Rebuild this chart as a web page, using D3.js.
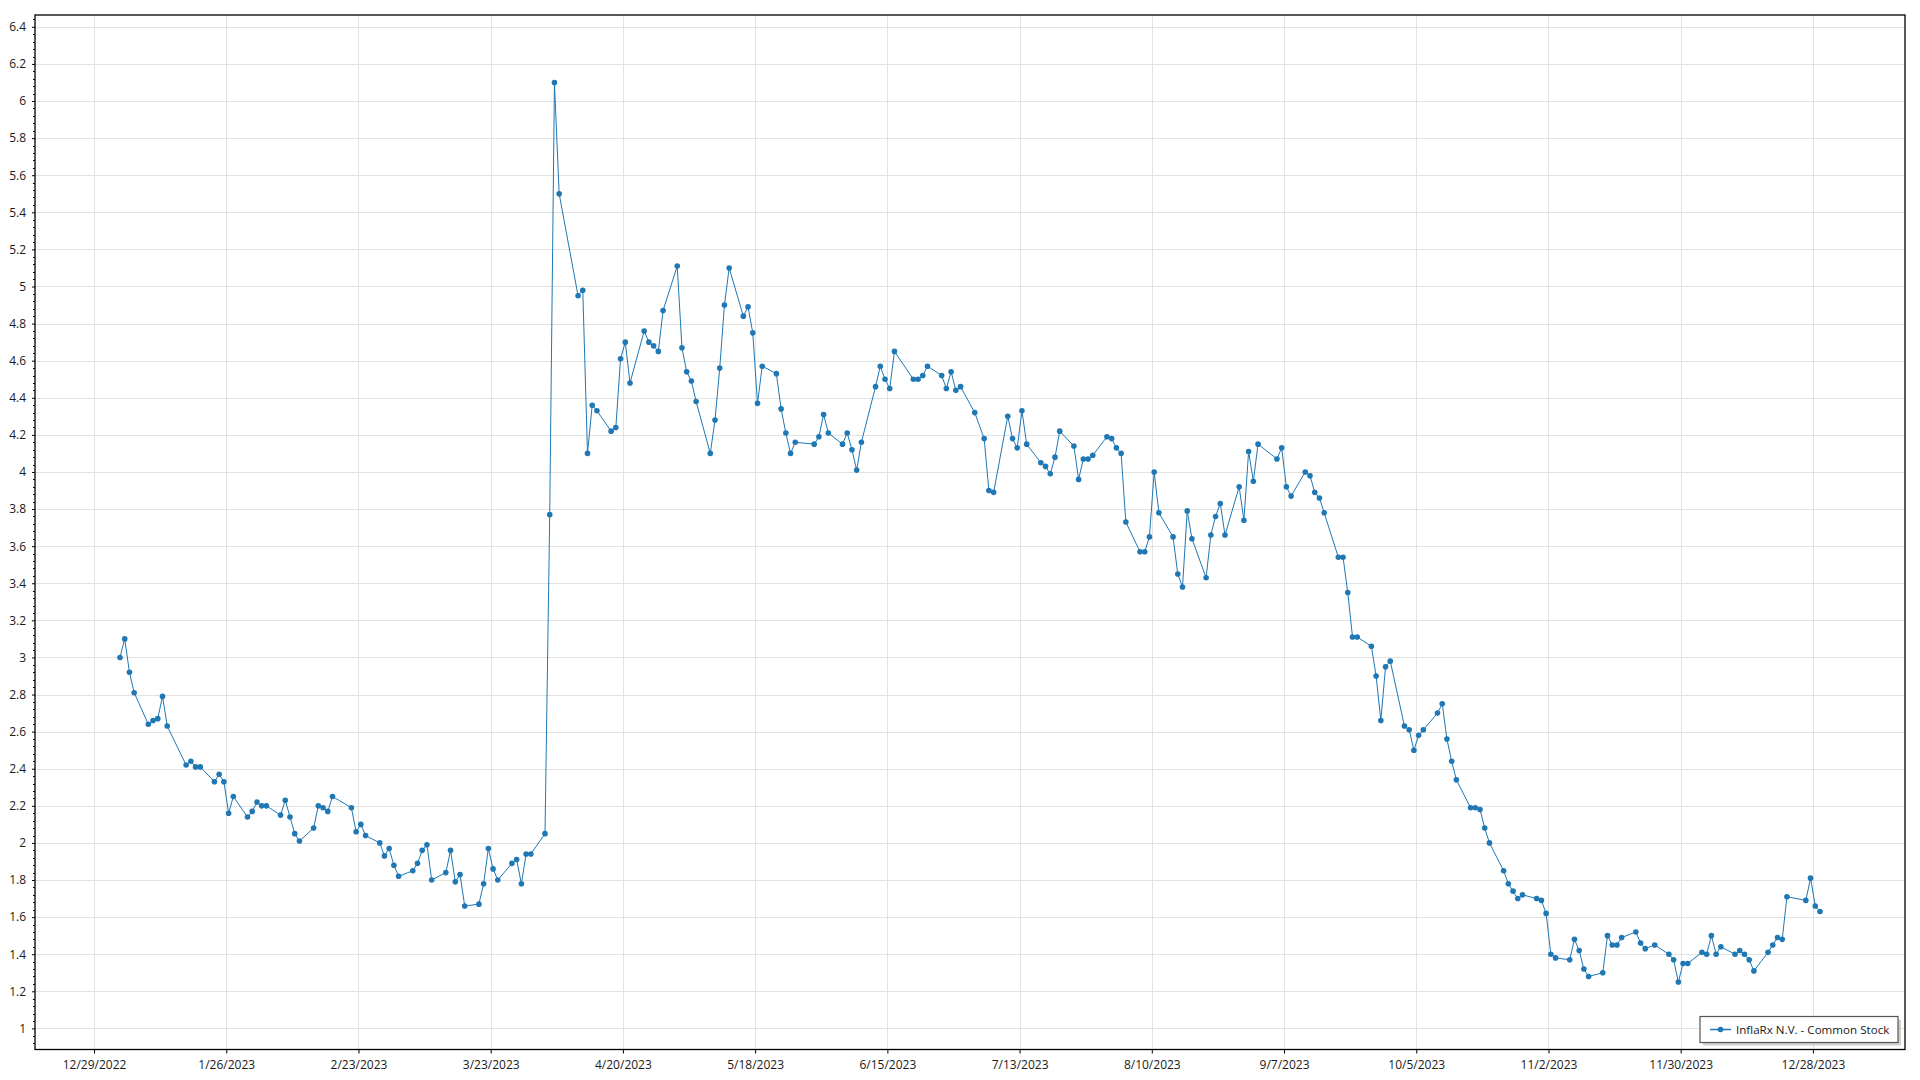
<!DOCTYPE html>
<html><head><meta charset="utf-8">
<script src="https://cdn.jsdelivr.net/npm/d3@7"></script>
<style>
body{margin:0;background:#fff}
svg{display:block}
text{font-family:"Open Sans","Noto Sans",sans-serif}
</style>
</head><body>
<svg id="chart" width="1920" height="1080"></svg>
<script>
const seriesName = "InflaRx N.V. - Common Stock";

const dates = [
"2023-01-03","2023-01-04","2023-01-05","2023-01-06","2023-01-09","2023-01-10","2023-01-11","2023-01-12","2023-01-13","2023-01-17","2023-01-18","2023-01-19","2023-01-20","2023-01-23","2023-01-24","2023-01-25","2023-01-26","2023-01-27","2023-01-30","2023-01-31",
"2023-02-01","2023-02-02","2023-02-03","2023-02-06","2023-02-07","2023-02-08","2023-02-09","2023-02-10","2023-02-13","2023-02-14","2023-02-15","2023-02-16","2023-02-17","2023-02-21","2023-02-22","2023-02-23","2023-02-24","2023-02-27","2023-02-28",
"2023-03-01","2023-03-02","2023-03-03","2023-03-06","2023-03-07","2023-03-08","2023-03-09","2023-03-10","2023-03-13","2023-03-14","2023-03-15","2023-03-16","2023-03-17","2023-03-20","2023-03-21","2023-03-22","2023-03-23","2023-03-24","2023-03-27","2023-03-28","2023-03-29","2023-03-30","2023-03-31",
"2023-04-03","2023-04-04","2023-04-05","2023-04-06","2023-04-10","2023-04-11","2023-04-12","2023-04-13","2023-04-14","2023-04-17","2023-04-18","2023-04-19","2023-04-20","2023-04-21","2023-04-24","2023-04-25","2023-04-26","2023-04-27","2023-04-28",
"2023-05-01","2023-05-02","2023-05-03","2023-05-04","2023-05-05","2023-05-08","2023-05-09","2023-05-10","2023-05-11","2023-05-12","2023-05-15","2023-05-16","2023-05-17","2023-05-18","2023-05-19","2023-05-22","2023-05-23","2023-05-24","2023-05-25","2023-05-26","2023-05-30","2023-05-31",
"2023-06-01","2023-06-02","2023-06-05","2023-06-06","2023-06-07","2023-06-08","2023-06-09","2023-06-12","2023-06-13","2023-06-14","2023-06-15","2023-06-16","2023-06-20","2023-06-21","2023-06-22","2023-06-23","2023-06-26","2023-06-27","2023-06-28","2023-06-29","2023-06-30",
"2023-07-03","2023-07-05","2023-07-06","2023-07-07","2023-07-10","2023-07-11","2023-07-12","2023-07-13","2023-07-14","2023-07-17","2023-07-18","2023-07-19","2023-07-20","2023-07-21","2023-07-24","2023-07-25","2023-07-26","2023-07-27","2023-07-28","2023-07-31",
"2023-08-01","2023-08-02","2023-08-03","2023-08-04","2023-08-07","2023-08-08","2023-08-09","2023-08-10","2023-08-11","2023-08-14","2023-08-15","2023-08-16","2023-08-17","2023-08-18","2023-08-21","2023-08-22","2023-08-23","2023-08-24","2023-08-25","2023-08-28","2023-08-29","2023-08-30","2023-08-31",
"2023-09-01","2023-09-05","2023-09-06","2023-09-07","2023-09-08","2023-09-11","2023-09-12","2023-09-13","2023-09-14","2023-09-15","2023-09-18","2023-09-19","2023-09-20","2023-09-21","2023-09-22","2023-09-25","2023-09-26","2023-09-27","2023-09-28","2023-09-29",
"2023-10-02","2023-10-03","2023-10-04","2023-10-05","2023-10-06","2023-10-09","2023-10-10","2023-10-11","2023-10-12","2023-10-13","2023-10-16","2023-10-17","2023-10-18","2023-10-19","2023-10-20","2023-10-23","2023-10-24","2023-10-25","2023-10-26","2023-10-27","2023-10-30","2023-10-31",
"2023-11-01","2023-11-02","2023-11-03","2023-11-06","2023-11-07","2023-11-08","2023-11-09","2023-11-10","2023-11-13","2023-11-14","2023-11-15","2023-11-16","2023-11-17","2023-11-20","2023-11-21","2023-11-22","2023-11-24","2023-11-27","2023-11-28","2023-11-29","2023-11-30",
"2023-12-01","2023-12-04","2023-12-05","2023-12-06","2023-12-07","2023-12-08","2023-12-11","2023-12-12","2023-12-13","2023-12-14","2023-12-15","2023-12-18","2023-12-19","2023-12-20","2023-12-21","2023-12-22","2023-12-26","2023-12-27","2023-12-28","2023-12-29"
];

const prices = [
3.00,3.10,2.92,2.81,2.64,2.66,2.67,2.79,2.63,2.42,2.44,2.41,2.41,2.33,2.37,2.33,2.16,2.25,2.14,2.17,
2.22,2.20,2.20,2.15,2.23,2.14,2.05,2.01,2.08,2.20,2.19,2.17,2.25,2.19,2.06,2.10,2.04,2.00,1.93,
1.97,1.88,1.82,1.85,1.89,1.96,1.99,1.80,1.84,1.96,1.79,1.83,1.66,1.67,1.78,1.97,1.86,1.80,1.89,1.91,1.78,1.94,1.94,
2.05,3.77,6.10,5.50,4.95,4.98,4.10,4.36,4.33,4.22,4.24,4.61,4.70,4.48,4.76,4.70,4.68,4.65,4.87,
5.11,4.67,4.54,4.49,4.38,4.10,4.28,4.56,4.90,5.10,4.84,4.89,4.75,4.37,4.57,4.53,4.34,4.21,4.10,4.16,4.15,4.19,
4.31,4.21,4.15,4.21,4.12,4.01,4.16,4.46,4.57,4.50,4.45,4.65,4.50,4.50,4.52,4.57,4.52,4.45,4.54,4.44,4.46,
4.32,4.18,3.90,3.89,4.30,4.18,4.13,4.33,4.15,4.05,4.03,3.99,4.08,4.22,4.14,3.96,4.07,4.07,4.09,4.19,
4.18,4.13,4.10,3.73,3.57,3.57,3.65,4.00,3.78,3.65,3.45,3.38,3.79,3.64,3.43,3.66,3.76,3.83,3.66,3.92,3.74,4.11,3.95,
4.15,4.07,4.13,3.92,3.87,4.00,3.98,3.89,3.86,3.78,3.54,3.54,3.35,3.11,3.11,3.06,2.90,2.66,2.95,2.98,
2.63,2.61,2.50,2.58,2.61,2.70,2.75,2.56,2.44,2.34,2.19,2.19,2.18,2.08,2.00,1.85,1.78,1.74,1.70,1.72,1.70,1.69,
1.62,1.40,1.38,1.37,1.48,1.42,1.32,1.28,1.30,1.50,1.45,1.45,1.49,1.52,1.46,1.43,1.45,1.40,1.37,1.25,1.35,
1.35,1.41,1.40,1.50,1.40,1.44,1.40,1.42,1.40,1.37,1.31,1.41,1.45,1.49,1.48,1.71,1.69,1.81,1.66,1.63
];

const xTickLabels = ["12/29/2022","1/26/2023","2/23/2023","3/23/2023","4/20/2023","5/18/2023","6/15/2023","7/13/2023","8/10/2023","9/7/2023","10/5/2023","11/2/2023","11/30/2023","12/28/2023"];
const yTickLabels = ["1","1.2","1.4","1.6","1.8","2","2.2","2.4","2.6","2.8","3","3.2","3.4","3.6","3.8","4","4.2","4.4","4.6","4.8","5","5.2","5.4","5.6","5.8","6","6.2","6.4"];

// ---- layout ----
const W = 1920, H = 1080;
const plot = {left: 35, right: 1905, top: 15, bottom: 1049.5};
const lineColor = "#1f77b4";

const parseDay = d3.timeParse("%Y-%m-%d");
const parseTick = d3.timeParse("%m/%d/%Y");
// data points are stamped at midday of their trading day
const data = dates.map((d, i) => ({date: d3.timeHour.offset(parseDay(d), 12), value: prices[i]}));

const dExt = d3.extent(data, d => d.date);
const dSpan = dExt[1] - dExt[0];
const x = d3.scaleTime()
  .domain([new Date(+dExt[0] - dSpan * 0.05), new Date(+dExt[1] + dSpan * 0.05)])
  .range([plot.left, plot.right]);

const vExt = d3.extent(prices);
const vSpan = vExt[1] - vExt[0];
const y = d3.scaleLinear()
  .domain([vExt[0] - vSpan * 0.075, vExt[1] + vSpan * 0.075])
  .range([plot.bottom, plot.top]);

const svg = d3.select("#chart");
svg.append("rect").attr("width", W).attr("height", H).attr("fill", "#fff");

const xTicks = xTickLabels.map(s => parseTick(s));
const yTicks = yTickLabels.map(s => +s);

// grid
const grid = svg.append("g").attr("stroke", "#e2e2e2").attr("stroke-width", 1);
grid.selectAll("line.v").data(xTicks).join("line")
  .attr("x1", d => Math.round(x(d)) + 0.5).attr("x2", d => Math.round(x(d)) + 0.5)
  .attr("y1", plot.top).attr("y2", plot.bottom);
grid.selectAll("line.h").data(yTicks).join("line")
  .attr("y1", d => Math.round(y(d)) + 0.5).attr("y2", d => Math.round(y(d)) + 0.5)
  .attr("x1", plot.left).attr("x2", plot.right);

// x axis
const xAxis = d3.axisBottom(x).tickValues(xTicks)
  .tickFormat((d, i) => xTickLabels[i]).tickSize(4).tickSizeOuter(0).tickPadding(6);
const gx = svg.append("g").attr("transform", `translate(0,${plot.bottom})`).call(xAxis);
gx.select(".domain").remove();
gx.selectAll("line").attr("stroke", "#000");
gx.selectAll("text").attr("font-size", 12).attr("fill", "#1a1a1a").attr("dy", "0.75em");

// y axis minor ticks
const minorVals = d3.range(Math.ceil(y.domain()[0] / 0.04), Math.floor(y.domain()[1] / 0.04) + 1)
  .map(i => +(i * 0.04).toFixed(2)).filter(v => Math.abs(v * 5 - Math.round(v * 5)) > 1e-6);
svg.append("g").selectAll("line").data(minorVals).join("line")
  .attr("x1", plot.left - 2).attr("x2", plot.left)
  .attr("y1", d => Math.round(y(d)) + 0.5).attr("y2", d => Math.round(y(d)) + 0.5)
  .attr("stroke", "#000");

const yAxis = d3.axisLeft(y).tickValues(yTicks)
  .tickFormat((d, i) => yTickLabels[i]).tickSize(3).tickSizeOuter(0).tickPadding(6);
const gy = svg.append("g").attr("transform", `translate(${plot.left},0)`).call(yAxis);
gy.select(".domain").remove();
gy.selectAll("line").attr("stroke", "#000");
gy.selectAll("text").attr("font-size", 12).attr("fill", "#1a1a1a");

// frame
svg.append("rect")
  .attr("x", plot.left).attr("y", plot.top)
  .attr("width", plot.right - plot.left).attr("height", plot.bottom - plot.top)
  .attr("fill", "none").attr("stroke", "#000").attr("stroke-width", 1.3);

// series
const clip = svg.append("clipPath").attr("id", "clip").append("rect")
  .attr("x", plot.left).attr("y", plot.top)
  .attr("width", plot.right - plot.left).attr("height", plot.bottom - plot.top);
const series = svg.append("g").attr("clip-path", "url(#clip)");
series.append("path").datum(data)
  .attr("fill", "none").attr("stroke", lineColor).attr("stroke-width", 1)
  .attr("d", d3.line().x(d => x(d.date)).y(d => y(d.value)));
series.selectAll("circle").data(data).join("circle")
  .attr("cx", d => x(d.date)).attr("cy", d => y(d.value)).attr("r", 2.8)
  .attr("fill", lineColor);

// legend
const lg = svg.append("g").attr("transform", "translate(1700,1016.5)");
const lgW = 198, lgH = 26;
lg.append("rect").attr("x", 3).attr("y", 3).attr("width", lgW).attr("height", lgH)
  .attr("fill", "#b0b0b0").attr("opacity", 0.6);
lg.append("rect").attr("width", lgW).attr("height", lgH)
  .attr("fill", "#fff").attr("stroke", "#555").attr("stroke-width", 1.2);
lg.append("line").attr("x1", 10).attr("x2", 31).attr("y1", lgH / 2).attr("y2", lgH / 2)
  .attr("stroke", lineColor).attr("stroke-width", 1.5);
lg.append("circle").attr("cx", 20.5).attr("cy", lgH / 2).attr("r", 2.8).attr("fill", lineColor);
lg.append("text").attr("x", 36).attr("y", lgH / 2).attr("dy", "0.35em")
  .attr("font-size", 11.6).attr("fill", "#1a1a1a").text(seriesName);
</script>
</body></html>
